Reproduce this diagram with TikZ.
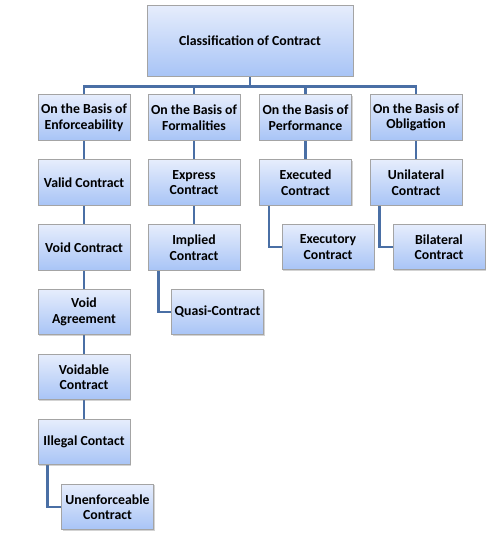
\documentclass[tikz,border=0pt]{standalone}
\usepackage{fontspec}
\setmainfont{Carlito}
\usetikzlibrary{shadows,backgrounds}
\definecolor{boxtop}{HTML}{E6EDFC}
\definecolor{boxbot}{HTML}{A8C4F6}
\definecolor{boxline}{HTML}{A4A4A4}
\definecolor{link}{HTML}{4A6FA5}
\begin{document}
\begin{tikzpicture}[x=1pt,y=-1pt,
  box/.style={draw=boxline,line width=0.8pt,top color=boxtop,bottom color=boxbot,
    minimum width=92pt,minimum height=45.5pt,align=center,inner sep=0pt,
    font=\fontsize{13.8}{15.5}\selectfont\bfseries,
    drop shadow={shadow xshift=1.2pt,shadow yshift=-1.2pt,opacity=0.35,fill=black!50}},
  rootbox/.style={box,minimum width=206pt,minimum height=71pt},
  conn/.style={draw=link,line width=2.4pt}]
\useasboundingbox (0,0) rectangle (502,533);
\node[rootbox] (root) at (250,40.5) {Classification of Contract};
% level 1
\node[box] (c1) at (84,117.5) {On the Basis of\\Enforceability};
\node[box] (c2) at (194,117.5) {On the Basis of\\Formalities};
\node[box] (c3) at (305.5,117.5) {On the Basis of\\Performance};
\node[box] (c4) at (416,117.5) {On the Basis of\\Obligation};
% column 1
\node[box] (valid) at (84,182.5) {Valid Contract};
\node[box] (voidc) at (84,247.5) {Void Contract};
\node[box] (voida) at (84,312) {Void\\Agreement};
\node[box] (voidable) at (84,377) {Voidable\\Contract};
\node[box] (illegal) at (84,442) {Illegal Contact};
\node[box] (unenf) at (107.5,507) {Unenforceable\\Contract};
% column 2
\node[box] (express) at (194,182.5) {Express\\Contract};
\node[box] (implied) at (194,247.5) {Implied\\Contract};
\node[box] (quasi) at (217.5,312) {Quasi-Contract};
% column 3
\node[box] (executed) at (305.5,182.5) {Executed\\Contract};
\node[box] (executory) at (328,247) {Executory\\Contract};
% column 4
\node[box] (unilat) at (416,182.5) {Unilateral\\Contract};
\node[box] (bilat) at (439,247) {Bilateral\\Contract};
% connectors
\begin{scope}[on background layer]
\draw[conn] (root.south) -- ++(0,10) coordinate (b0);
\draw[conn] (b0) -| (c1.north);
\draw[conn] (b0) -| (c2.north);
\draw[conn] (b0) -| (c3.north);
\draw[conn] (b0) -| (c4.north);
\draw[conn] (c1) -- (valid);
\draw[conn] (valid) -- (voidc);
\draw[conn] (voidc) -- (voida);
\draw[conn] (voida) -- (voidable);
\draw[conn] (voidable) -- (illegal);
\draw[conn] ([xshift=10pt]illegal.south west) |- (unenf.west);
\draw[conn] (c2) -- (express);
\draw[conn] (express) -- (implied);
\draw[conn] ([xshift=11pt]implied.south west) |- (quasi.west);
\draw[conn] (c3) -- (executed);
\draw[conn] ([xshift=10pt]executed.south west) |- (executory.west);
\draw[conn] (c4) -- (unilat);
\draw[conn] ([xshift=10pt]unilat.south west) |- (bilat.west);
\end{scope}
\end{tikzpicture}
\end{document}
